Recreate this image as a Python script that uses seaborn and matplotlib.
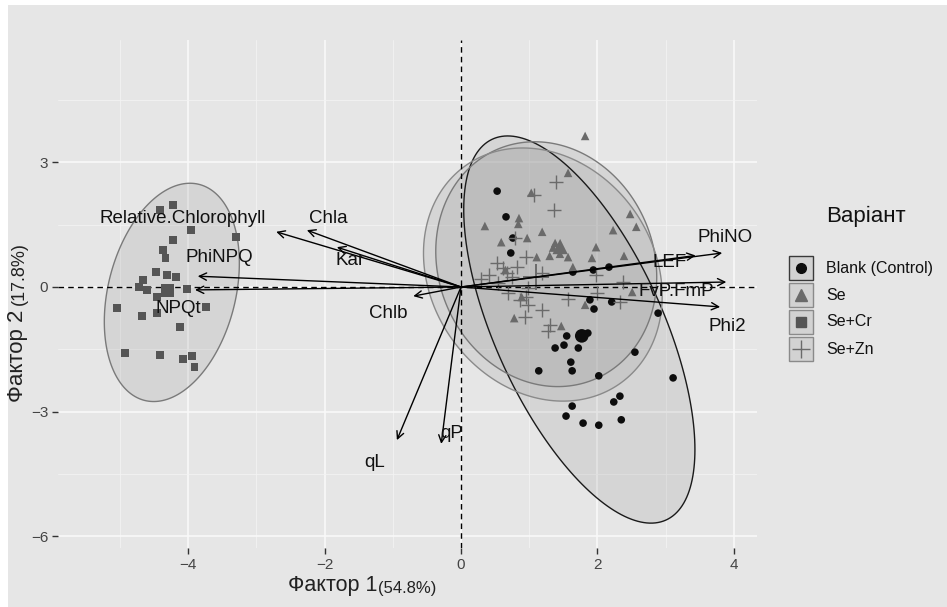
import numpy as np
import pandas as pd
import matplotlib
matplotlib.use("Agg")
import matplotlib.pyplot as plt
import seaborn as sns
from matplotlib.patches import Polygon, Rectangle
from matplotlib.lines import Line2D

# ---------------- data ----------------
groups = ["Blank (Control)", "Se", "Se+Cr", "Se+Zn"]

blank_x = [0.53, 0.66, 0.76, 0.73, 1.64, 2.17, 1.94, 1.89, 1.95, 2.21, 2.89, 1.55, 1.86, 1.38,
           1.51, 1.72, 2.55, 1.61, 1.14, 1.63, 2.02, 3.11, 2.33, 2.24, 1.63, 1.54, 1.79, 2.02, 2.35]
blank_y = [2.31, 1.69, 1.18, 0.82, 0.36, 0.48, 0.41, -0.31, -0.53, -0.36, -0.63, -1.18, -1.11, -1.47,
           -1.40, -1.47, -1.57, -1.81, -2.02, -2.02, -2.14, -2.19, -2.63, -2.77, -2.87, -3.11, -3.28, -3.33, -3.20]

se_x = [1.82, 1.57, 1.03, 0.85, 0.84, 0.35, 0.59, 0.97, 1.19, 1.38, 1.98, 2.48, 2.57, 2.23, 1.57,
        1.92, 2.39, 1.11, 1.64, 0.65, 2.51, 1.82, 0.89, 0.78, 1.47, 1.35, 1.45, 1.30]
se_y = [3.64, 2.75, 2.27, 1.66, 1.52, 1.47, 1.08, 1.18, 1.33, 1.06, 0.96, 1.76, 1.45, 1.37, 0.72,
        0.70, 0.75, 0.72, 0.48, 0.41, -0.12, -0.43, -0.24, -0.75, -0.94, 0.95, 0.80, 0.75]

secr_x = [-4.22, -3.96, -3.30, -4.22, -4.37, -4.33, -4.47, -4.31, -4.18, -4.66, -4.72, -4.60, -4.02,
          -4.46, -5.04, -3.74, -4.68, -4.46, -4.12, -4.93, -4.41, -4.08, -3.94, -3.91, -4.41]
secr_y = [1.98, 1.37, 1.20, 1.13, 0.89, 0.70, 0.36, 0.29, 0.24, 0.17, 0.00, -0.07, -0.05,
          -0.24, -0.51, -0.48, -0.70, -0.63, -0.96, -1.59, -1.64, -1.73, -1.66, -1.93, 1.86]

sezn_x = [1.39, 1.07, 1.36, 0.79, 0.95, 0.53, 0.82, 0.41, 0.67, 1.19, 0.54, 1.98, 2.38, 0.69,
          0.98, 0.87, 0.98, 1.57, 1.99, 2.33, 1.19, 0.94, 1.30, 1.28, 0.62, 0.75, 0.95, 0.30]
sezn_y = [2.53, 2.22, 1.86, 1.18, 0.72, 0.58, 0.48, 0.29, 0.34, 0.34, 0.10, 0.29, 0.12, -0.14,
          -0.02, -0.31, -0.43, -0.29, -0.14, -0.36, -0.55, -0.72, -0.92, -1.06, 0.45, 0.25, -0.25, 0.20]

# variable loadings (arrow tips) and their label positions
var_names = ["Relative.Chlorophyll", "Chla", "Kar", "PhiNPQ", "NPQt", "Chlb",
             "qL", "qP", "PhiNO", "LEF", "FvP.FmP", "Phi2"]
var_x = [-2.71, -2.26, -1.82, -3.86, -3.90, -0.70, -0.94, -0.29, 3.83, 3.44, 3.89, 3.80]
var_y = [1.33, 1.37, 0.96, 0.26, -0.07, -0.22, -3.69, -3.78, 0.82, 0.76, 0.12, -0.48]
lab_x = [-4.08, -1.94, -1.63, -3.55, -4.15, -1.07, -1.26, -0.13, 3.87, 3.06, 3.15, 3.90]
lab_y = [1.64, 1.66, 0.65, 0.70, -0.51, -0.63, -4.24, -3.54, 1.20, 0.60, -0.12, -0.94]

# confidence ellipses: centre, half-extent in x / y, and cross term
ell_cx = [1.735, 1.25, -4.24, 1.20]
ell_cy = [-1.025, 0.55, -0.13, 0.30]
ell_hx = [1.695, 1.62, 0.99, 1.75]
ell_hy = [4.665, 2.95, 2.63, 3.05]
ell_sxy = [-4.90, -0.50, 0.70, -0.90]

x_ticks = [-4, -2, 0, 2, 4]
y_ticks = [-6, -3, 0, 3]

# ---------------- styling ----------------
BG = "#e6e6e6"
markers = {"Blank (Control)": "o", "Se": "^", "Se+Cr": "s", "Se+Zn": "+"}
colors = {"Blank (Control)": "#0d0d0d", "Se": "#6a6a6a", "Se+Cr": "#555555", "Se+Zn": "#6a6a6a"}
sizes = {"Blank (Control)": 30, "Se": 38, "Se+Cr": 30, "Se+Zn": 110}
ell_edge = {"Blank (Control)": "#1a1a1a", "Se": "#7a7a7a", "Se+Cr": "#7a7a7a", "Se+Zn": "#8a8a8a"}

sns.set_theme(style="darkgrid")
plt.rcParams["font.family"] = ["Liberation Sans", "DejaVu Sans"]

fig = plt.figure(figsize=(9.47, 6.07), dpi=100)
fig.patch.set_facecolor("white")
fig.add_artist(Rectangle((8 / 947, 0), 1, 1 - 5 / 607, transform=fig.transFigure,
                         facecolor=BG, edgecolor="none", zorder=-10))

L, R, T, B = 58, 757, 40, 548
ax = fig.add_axes([L / 947, 1 - B / 607, (R - L) / 947, (B - T) / 607])
ax.set_facecolor(BG)
for s in ax.spines.values():
    s.set_visible(False)

df = pd.concat([
    pd.DataFrame({"x": blank_x, "y": blank_y, "g": groups[0]}),
    pd.DataFrame({"x": se_x, "y": se_y, "g": groups[1]}),
    pd.DataFrame({"x": secr_x, "y": secr_y, "g": groups[2]}),
    pd.DataFrame({"x": sezn_x, "y": sezn_y, "g": groups[3]}),
], ignore_index=True)

# ellipses
t = np.linspace(0, 2 * np.pi, 200)
for i, g in enumerate(groups):
    M = np.array([[ell_hx[i] ** 2, ell_sxy[i]], [ell_sxy[i], ell_hy[i] ** 2]])
    Lc = np.linalg.cholesky(M)
    pts = (Lc @ np.vstack([np.cos(t), np.sin(t)])).T + np.array([ell_cx[i], ell_cy[i]])
    ax.add_patch(Polygon(pts, closed=True, facecolor="#9a9a9a", alpha=0.22,
                         edgecolor="none", zorder=1))
    ax.add_patch(Polygon(pts, closed=True, facecolor="none", edgecolor=ell_edge[g],
                         lw=1.0, zorder=1.5))

# points
for g in groups:
    sub = df[df.g == g]
    kw = dict(edgecolor="none") if markers[g] != "+" else dict(linewidth=1.0)
    sns.scatterplot(data=sub, x="x", y="y", marker=markers[g], color=colors[g],
                    s=sizes[g], ax=ax, legend=False, zorder=3, **kw)
# group means (larger)
means = df.groupby("g", sort=False)[["x", "y"]].mean()
for g in groups:
    kw = dict(edgecolor="none") if markers[g] != "+" else dict(linewidth=1.4)
    sns.scatterplot(x=[means.loc[g, "x"]], y=[means.loc[g, "y"]], marker=markers[g],
                    color=colors[g], s=sizes[g] * 3.2, ax=ax, legend=False, zorder=3.5, **kw)

# reference lines
ax.axhline(0, color="black", lw=1.0, ls=(0, (4, 3)), zorder=2)
ax.axvline(0, color="black", lw=1.0, ls=(0, (4, 3)), zorder=2)

# arrows
for n, vx, vy, tx, ty in zip(var_names, var_x, var_y, lab_x, lab_y):
    ax.annotate("", xy=(vx, vy), xytext=(0, 0),
                arrowprops=dict(arrowstyle="->", color="black", lw=1.0,
                                shrinkA=0, shrinkB=0, mutation_scale=13), zorder=4)
    ax.text(tx, ty, n, fontsize=13.5, ha="center", va="center", color="#111111", zorder=5)

# axes limits / grid
ax.set_xlim((L - 461) / 68.2, (R - 461) / 68.2)
ax.set_ylim((287 - B) / 41.5, (287 - T) / 41.5)
ax.set_xticks(x_ticks)
ax.set_yticks(y_ticks)
ax.set_xticks([-5, -3, -1, 1, 3], minor=True)
ax.set_yticks([-4.5, -1.5, 1.5, 4.5], minor=True)
ax.grid(which="major", color="#fafafa", lw=1.1)
ax.grid(which="minor", color="#f3f3f3", lw=0.6)
ax.set_axisbelow(True)
ax.tick_params(which="major", length=4, width=1, color="#333333", labelsize=11,
               labelcolor="#444444", pad=3, bottom=True, left=True)
ax.tick_params(which="minor", length=0)
ax.set_xlabel("")
ax.set_ylabel("")

# axis titles (two-size text, placed side by side)
renderer = fig.canvas.get_renderer()
t1 = fig.text(288 / 947, 1 - 586 / 607, "Фактор 1", fontsize=15.5, ha="left", va="center",
              color="#222222")
bb = t1.get_window_extent(renderer).transformed(fig.transFigure.inverted())
fig.text(bb.x1 + 1 / 947, 1 - 588 / 607, "(54.8%)", fontsize=12, ha="left", va="center",
         color="#222222")
t2 = fig.text(18 / 947, 1 - 402 / 607, "Фактор 2", fontsize=16, rotation=90, ha="center",
              va="bottom", color="#222222")
bb2 = t2.get_window_extent(renderer).transformed(fig.transFigure.inverted())
fig.text(19 / 947, bb2.y1 + 5 / 607, "(17.8%)", fontsize=13, rotation=90, ha="center",
         va="bottom", color="#222222")

# legend (drawn manually)
fig.text(866 / 947, 1 - 216 / 607, "Варіант", fontsize=16, ha="center", va="center",
         color="#111111")
for i, g in enumerate(groups):
    cy = 268 + i * 27
    fig.add_artist(Rectangle((789 / 947, 1 - (cy + 12) / 607), 24 / 947, 24 / 607,
                             transform=fig.transFigure, facecolor="#d2d2d2",
                             edgecolor="#3a3a3a" if i == 0 else "#8a8a8a", lw=1.0))
    ms = {"o": 7, "^": 8, "s": 7, "+": 13}[markers[g]]
    fig.add_artist(Line2D([801 / 947], [1 - cy / 607], marker=markers[g], ms=ms,
                          color=colors[g], mew=1.0, ls="none", transform=fig.transFigure))
    fig.text(826 / 947, 1 - cy / 607, g, fontsize=11.5, ha="left", va="center",
             color="#111111")

fig.savefig("out.png", dpi=100, facecolor=fig.get_facecolor())
